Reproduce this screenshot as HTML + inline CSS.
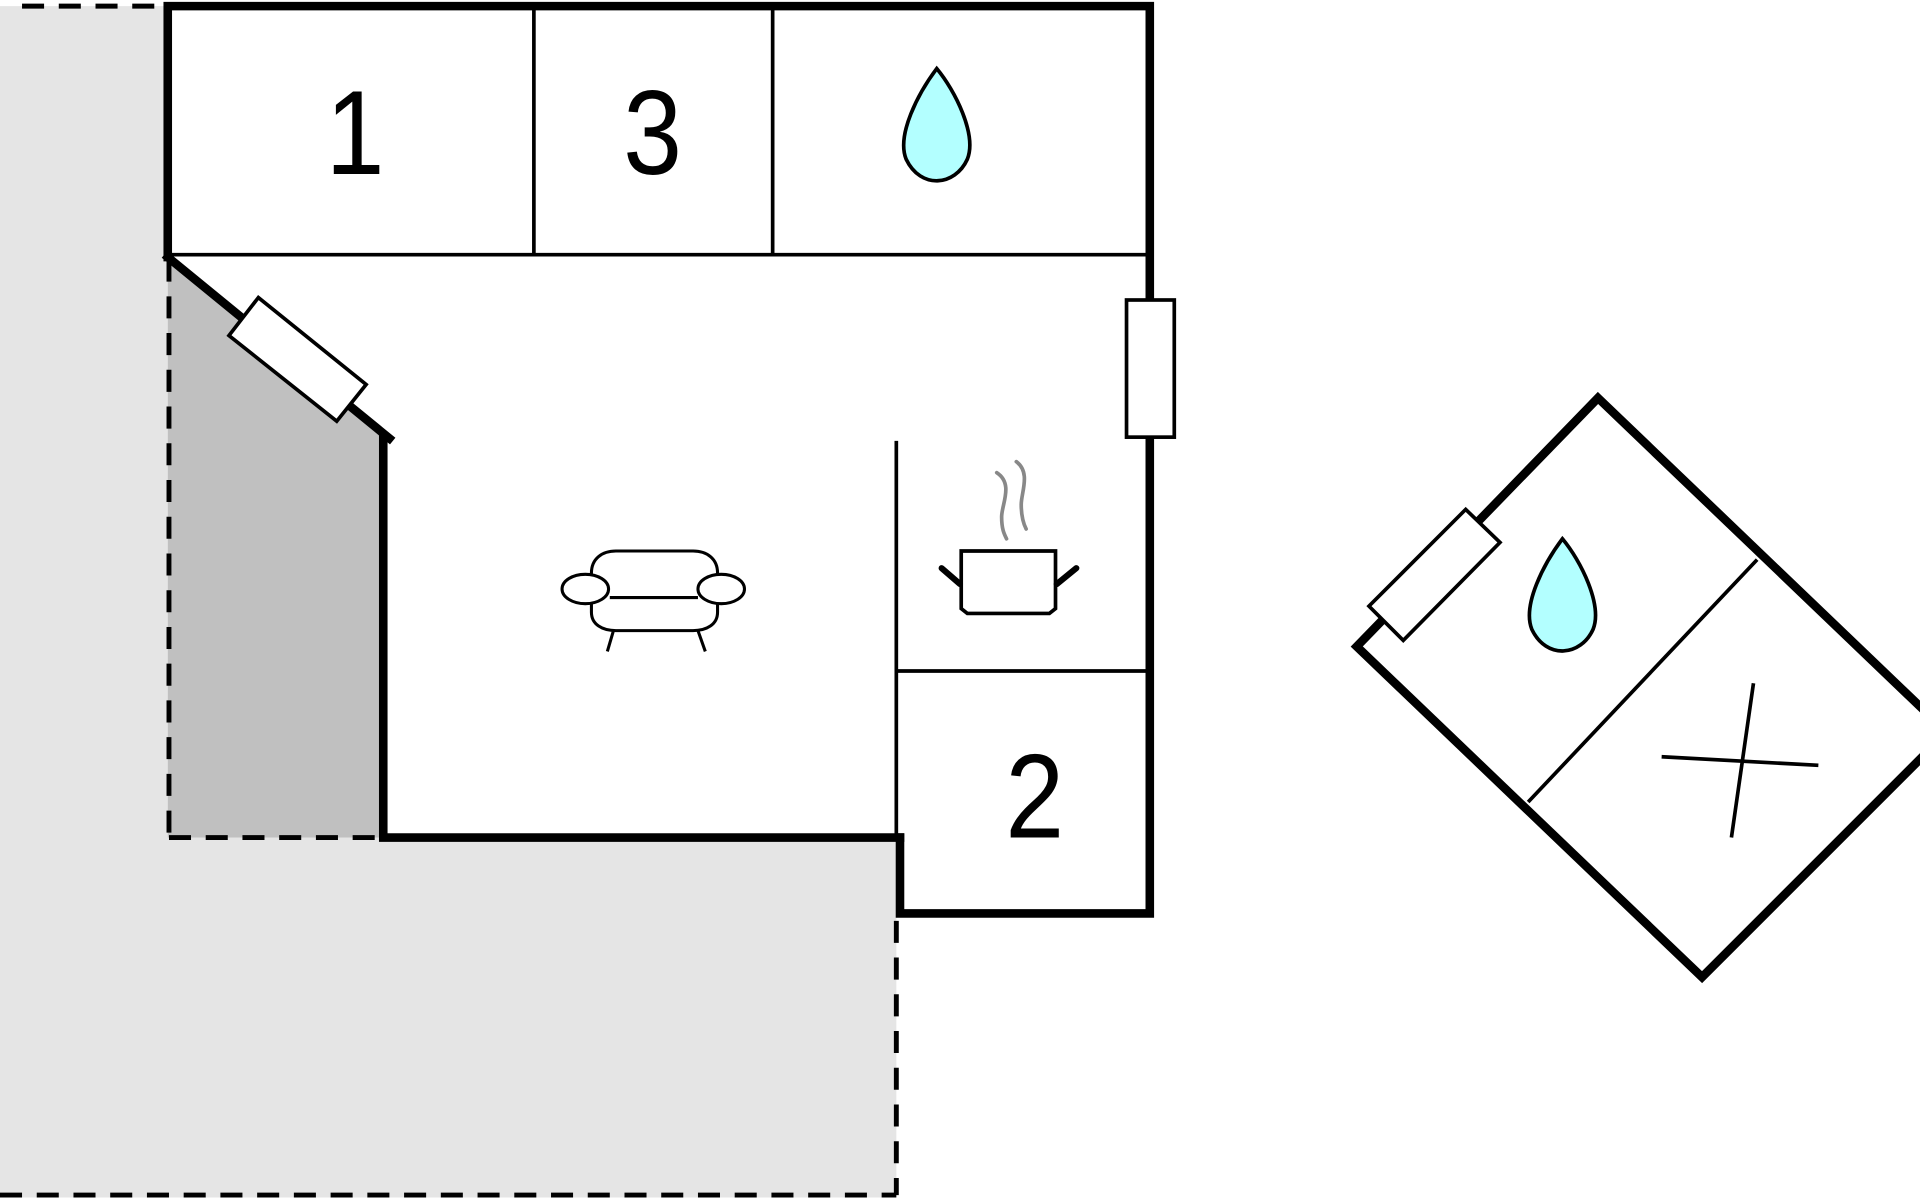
<!DOCTYPE html>
<html><head><meta charset="utf-8"><style>html,body{margin:0;padding:0;background:#fff;}svg{display:block}</style></head>
<body>
<svg width="1920" height="1200" viewBox="0 0 1568 980" xmlns="http://www.w3.org/2000/svg">
<path d="M0,5 H137 V684 H732 V978 H0 Z" fill="#e5e5e5"/>
<path d="M137,210 L315,358 V684 H137 Z" fill="#c0c0c0"/>
<g stroke="#000" stroke-width="4" stroke-dasharray="18,12" fill="none">
<line x1="18" y1="5" x2="137" y2="5"/>
<line x1="0" y1="976" x2="732" y2="976"/>
<line x1="732" y1="752" x2="732" y2="976"/>
<line x1="138" y1="212" x2="138" y2="684"/>
<line x1="138" y1="684" x2="313" y2="684"/>
</g>
<g stroke="#000" stroke-width="3" fill="none">
<line x1="137" y1="208" x2="939" y2="208"/>
<line x1="436" y1="5" x2="436" y2="208"/>
<line x1="631" y1="5" x2="631" y2="208"/>
<line x1="732" y1="360" x2="732" y2="684"/>
<line x1="732" y1="548" x2="939" y2="548"/>
</g>
<g stroke="#000" stroke-width="7" fill="none" stroke-linecap="square">
<polyline points="137,210 137,5 939,5 939,746 735,746 735,684"/>
<polyline points="735,684 313,684 313,358"/>
<line x1="137" y1="210" x2="318" y2="358"/>
</g>
<rect x="920" y="245" width="39" height="112" fill="#fff" stroke="#000" stroke-width="3"/>
<polygon points="211,243 299,314 275,344 187,274" fill="#fff" stroke="#000" stroke-width="3"/>
<g font-family="Liberation Sans, sans-serif" font-size="98" text-anchor="middle" fill="#000">
<text x="290" y="142" transform="translate(290,0) scale(0.88,1) translate(-290,0)">1</text>
<text x="533" y="142" transform="translate(533,0) scale(0.88,1) translate(-533,0)">3</text>
<text x="845" y="684" transform="translate(845,0) scale(0.88,1) translate(-845,0)">2</text>
</g>
<path d="M765,56 C780,74 798,110 790,130 C780,152 752,155 740,130 C732,110 750,76 765,56 Z" fill="#b3ffff" stroke="#000" stroke-width="3"/>
<g stroke="#000" stroke-width="2.5" fill="#fff">
<path d="M483,468 C483,456 492,450 503,450 H566 C577,450 586,456 586,468 V500 C586,510 577,515 566,515 H503 C492,515 483,510 483,500 Z"/>
<line x1="498" y1="488" x2="570" y2="488"/>
<ellipse cx="478" cy="481" rx="19" ry="12"/>
<ellipse cx="589" cy="481" rx="19" ry="12"/>
<line x1="501" y1="515" x2="496" y2="532"/>
<line x1="570" y1="515" x2="576" y2="532"/>
</g>
<g stroke="#000" stroke-width="3" fill="#fff">
<path d="M785,450 H862 V497 L857,501 H790 L785,497 Z"/>
</g>
<g stroke="#000" stroke-width="5" stroke-linecap="round">
<line x1="784" y1="477" x2="769" y2="464"/>
<line x1="863" y1="477" x2="879" y2="464"/>
</g>
<g stroke="#888" stroke-width="3" fill="none" stroke-linecap="round">
<path d="M814,386 C828,395 818,412 818,422 C818,432 820,436 822,440"/>
<path d="M830,377 C842,386 834,402 834,412 C834,422 836,428 838,432"/>
</g>
<polygon points="1305,325 1590,598 1390,798 1108,528" fill="#fff" stroke="#000" stroke-width="7"/>
<line x1="1435" y1="457" x2="1248" y2="655" stroke="#000" stroke-width="3"/>
<polygon points="1197,416 1225,443 1146,523 1118,495" fill="#fff" stroke="#000" stroke-width="3"/>
<path d="M1276,440 C1291,458 1309,494 1301,514 C1291,536 1263,539 1251,514 C1243,494 1261,460 1276,440 Z" fill="#b3ffff" stroke="#000" stroke-width="3"/>
<g stroke="#000" stroke-width="3">
<line x1="1357" y1="618" x2="1485" y2="625"/>
<line x1="1432" y1="558" x2="1414" y2="684"/>
</g>
</svg>
</body></html>
